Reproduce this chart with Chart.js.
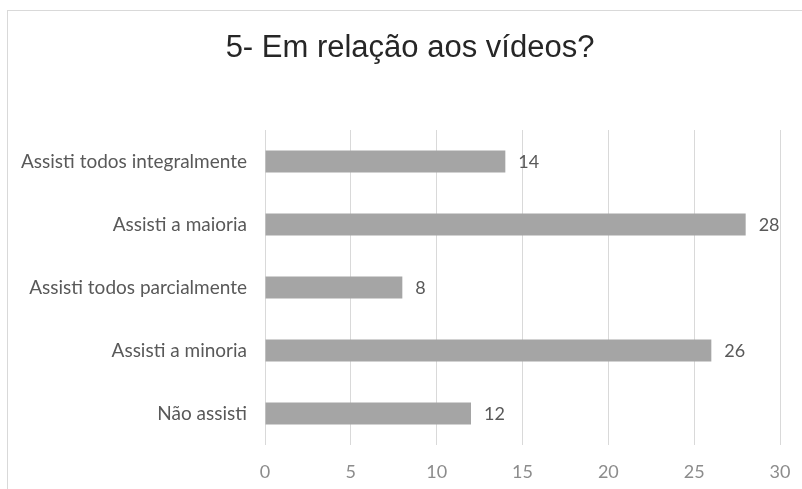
<!DOCTYPE html>
<html>
<head>
<meta charset="utf-8">
<script src="https://cdn.jsdelivr.net/npm/chart.js@4"></script>
<style>
html,body{margin:0;padding:0;background:#fff;overflow:hidden;}
#wrap{position:relative;width:802px;height:489px;overflow:hidden;}
#frame{position:absolute;left:7px;top:10px;width:900px;height:600px;border:1px solid #d9d9d9;}
canvas{position:absolute;left:0;top:0;}
</style>
</head>
<body>
<div id="wrap">
<div id="frame"></div>
<canvas id="c" width="802" height="489"></canvas>
</div>
<script>
const titleText = "5- Em relação aos vídeos?";
const categories = ["Assisti todos integralmente","Assisti a maioria","Assisti todos parcialmente","Assisti a minoria","Não assisti"];
const values = [14, 28, 8, 26, 12];
const xTicks = [0, 5, 10, 15, 20, 25, 30];

const labelFont = "Lato, 'Open Sans', sans-serif";

const valueLabels = {
  id: 'valueLabels',
  afterDatasetsDraw(chart) {
    const ctx = chart.ctx;
    const meta = chart.getDatasetMeta(0);
    ctx.save();
    ctx.font = "18px " + labelFont;
    ctx.fillStyle = "#595959";
    ctx.textAlign = "left";
    ctx.textBaseline = "middle";
    meta.data.forEach((bar, i) => {
      ctx.fillText(String(values[i]), bar.x + 13, bar.y + 1);
    });
    ctx.restore();
  }
};

const titleDraw = {
  id: 'titleDraw',
  afterDraw(chart) {
    const ctx = chart.ctx;
    ctx.save();
    ctx.font = "31px 'Liberation Sans', Arial, sans-serif";
    ctx.fillStyle = "#262626";
    ctx.textAlign = "center";
    ctx.textBaseline = "alphabetic";
    ctx.fillText(titleText, 410, 57);
    ctx.restore();
  }
};

new Chart(document.getElementById('c'), {
  type: 'bar',
  data: {
    labels: categories,
    datasets: [{
      data: values,
      backgroundColor: '#a5a5a5',
      borderWidth: 0,
      categoryPercentage: 1,
      barPercentage: 0.35
    }]
  },
  options: {
    indexAxis: 'y',
    responsive: false,
    animation: false,
    devicePixelRatio: 1,
    layout: { padding: { left: 0, right: 22, top: 130, bottom: 7 } },
    plugins: {
      legend: { display: false },
      tooltip: { enabled: false },
      title: { display: false }
    },
    scales: {
      x: {
        min: 0, max: 30,
        afterBuildTicks(scale) { scale.ticks = xTicks.map(v => ({ value: v })); },
        afterFit(scale) { scale.height = 37; scale.paddingRight = 0; scale.paddingLeft = 0; },
        grid: { color: '#d9d9d9', drawTicks: false, lineWidth: 1 },
        border: { display: false },
        ticks: { color: '#8c8c8c', padding: 16, font: { family: labelFont, size: 18 } }
      },
      y: {
        afterFit(scale) { scale.width = 265; scale.paddingTop = 0; scale.paddingBottom = 0; },
        grid: { display: false, drawTicks: false },
        border: { display: false },
        ticks: { color: '#595959', padding: 18, font: { family: labelFont, size: 19 } }
      }
    }
  },
  plugins: [valueLabels, titleDraw]
});
</script>
</body>
</html>
